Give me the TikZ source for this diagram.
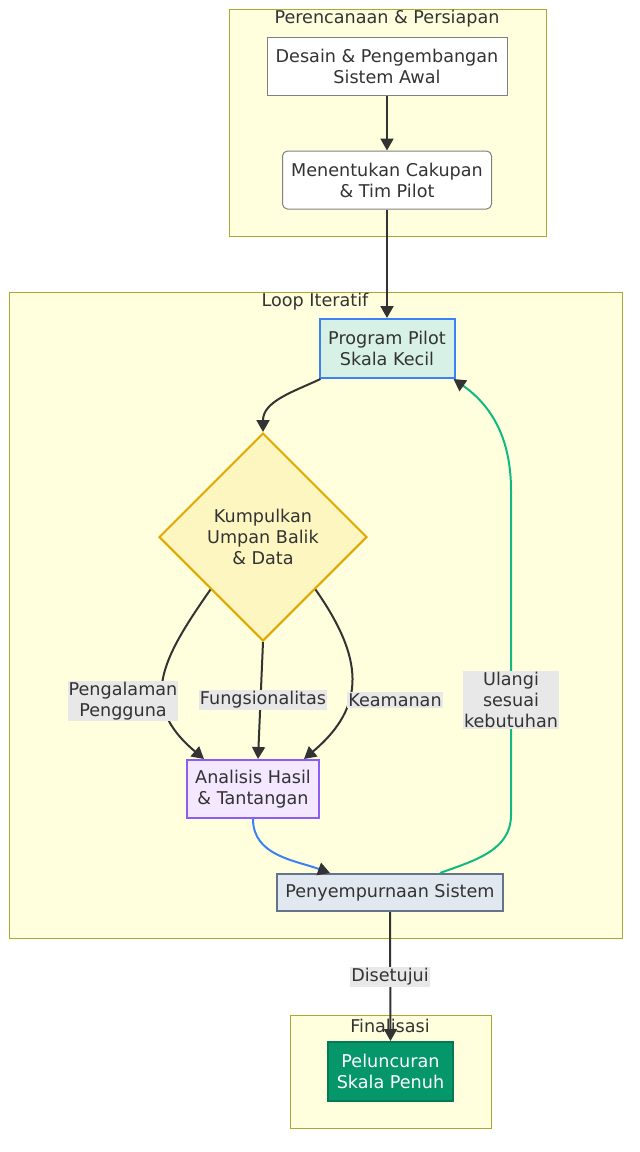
\documentclass[tikz,border=0pt]{standalone}
\usepackage{fontspec}
\setmainfont{DejaVu Sans}
\usetikzlibrary{arrows.meta,shapes.geometric}

\definecolor{grpfill}{HTML}{FFFFDE}
\definecolor{grpline}{HTML}{AAAA33}
\definecolor{ink}{HTML}{333333}
\definecolor{lblbg}{HTML}{E8E8E8}
\definecolor{pilotfill}{HTML}{D8F1E6}
\definecolor{pilotline}{HTML}{3B82F6}
\definecolor{datafill}{HTML}{FEF6C0}
\definecolor{dataline}{HTML}{E0A800}
\definecolor{anafill}{HTML}{F3E8FF}
\definecolor{analine}{HTML}{8B5CF6}
\definecolor{refill}{HTML}{E2E8F0}
\definecolor{reline}{HTML}{64748B}
\definecolor{gofill}{HTML}{059669}
\definecolor{goline}{HTML}{047857}
\definecolor{loopline}{HTML}{10B981}

\tikzset{
	txt/.style={font=\fontsize{17.6}{21}\selectfont, text=ink, align=center},
	grp/.style={draw=grpline, fill=grpfill, line width=1pt},
	box/.style={txt, draw, line width=1pt, inner sep=0pt},
	lbl/.style={txt, fill=lblbg, inner sep=1pt},
	arr/.style={draw=ink, line width=2pt, -{Triangle[length=12pt,width=13pt,color=ink]}},
}

\begin{document}
\begin{tikzpicture}[x=1pt,y=-1pt]
	\useasboundingbox (0,0) rectangle (640,1152);

	% groups
	\draw [grp] (229,9) rectangle (546,236);
	\draw [grp] (9,292) rectangle (622,938);
	\draw [grp] (290,1015) rectangle (491,1128);
	\node [txt] (tPlan) at (387,19) {Perencanaan \& Persiapan};
	\node [txt] (tLoop) at (315,302) {Loop Iteratif};
	\node [txt] (tFinal) at (390,1026) {Finalisasi};

	% nodes
	\node [box, draw=gray, fill=white, minimum width=240pt, minimum height=58pt] (desain) at (387,66) {Desain \& Pengembangan\\Sistem Awal};
	\node [box, draw=gray, fill=white, rounded corners=5pt, minimum width=209pt, minimum height=58pt] (cakupan) at (387,180) {Menentukan Cakupan\\\& Tim Pilot};
	\node [box, draw=pilotline, fill=pilotfill, line width=2pt, minimum width=135pt, minimum height=59pt] (pilot) at (387,348.5) {Program Pilot\\Skala Kecil};
	\node [txt, diamond, draw=dataline, fill=datafill, line width=2pt, minimum width=208pt, minimum height=208pt, inner sep=0pt] (kumpul) at (263,537) {Kumpulkan\\Umpan Balik\\\& Data};
	\node [box, draw=analine, fill=anafill, line width=2pt, minimum width=132pt, minimum height=58pt] (analisis) at (253,789) {Analisis Hasil\\\& Tantangan};
	\node [box, draw=reline, fill=refill, line width=2pt, minimum width=226pt, minimum height=37pt] (sempurna) at (390,892.5) {Penyempurnaan Sistem};
	\node [box, draw=goline, fill=gofill, text=white, line width=2pt, minimum width=125pt, minimum height=59pt] (luncur) at (390.5,1071.5) {Peluncuran\\Skala Penuh};

	% connectors
	\coordinate (loopLow) at (511,815);
	\coordinate (loopHigh) at (511,490);
	\draw [arr] (desain) -- (cakupan);
	\draw [arr] (cakupan.south) -- (pilot.north);
	\draw [arr] ([xshift=2pt]pilot.south west) to[out=205,in=90] (kumpul.north);
	\draw [arr] (kumpul.south west) to[out=235,in=140,looseness=1.3] ([xshift=18pt]analisis.north west);
	\draw [arr] (kumpul.south) -- ([xshift=5pt]analisis.north);
	\draw [arr] (kumpul.south east) to[out=-55,in=40,looseness=1.25] ([xshift=-16pt]analisis.north east);
	\draw [arr, draw=pilotline] (analisis.south) to[out=-90,in=160] ([xshift=-60pt]sempurna.north);
	\draw [arr, draw=loopline] ([xshift=50pt]sempurna.north) to[out=20,in=-90] (loopLow) -- (loopHigh) to[out=90,in=-35] ([xshift=-2pt]pilot.south east);
	\draw [arr] (sempurna.south) -- (luncur.north);

	% edge labels
	\node [lbl] (lUser) at (123,701) {Pengalaman\\Pengguna};
	\node [lbl] (lFunc) at (263,700) {Fungsionalitas};
	\node [lbl] (lSec) at (395,700) {Keamanan};
	\node [lbl] (lRep) at (511,700) {Ulangi\\sesuai\\kebutuhan};
	\node [lbl] (lOk) at (390,977) {Disetujui};
\end{tikzpicture}
\end{document}
